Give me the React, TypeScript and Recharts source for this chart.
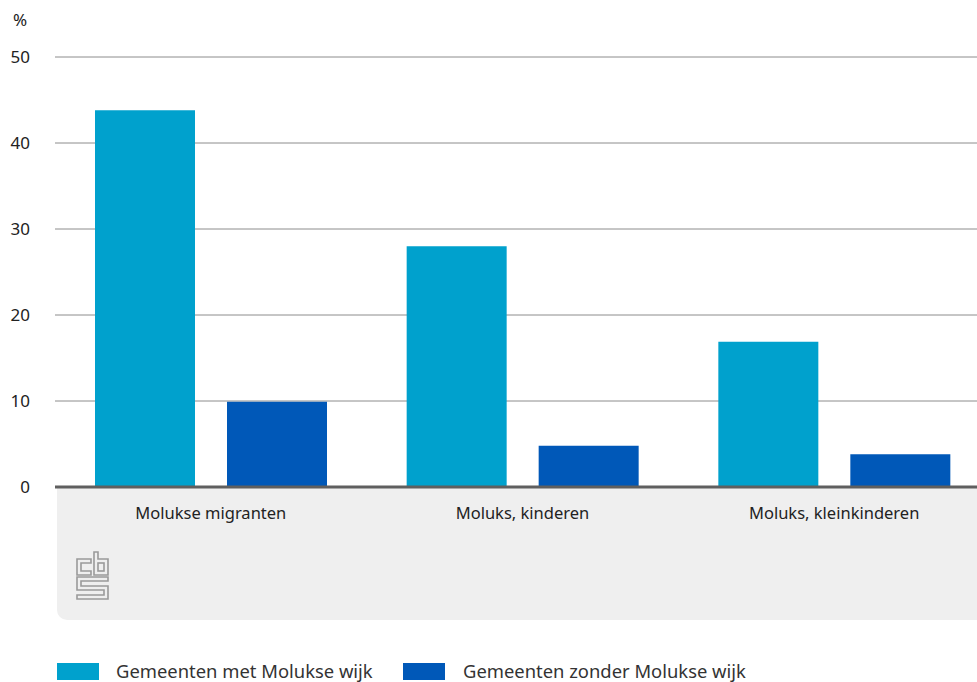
import React from 'react'
import {
  BarChart, Bar, XAxis, YAxis, CartesianGrid, ReferenceLine,
} from 'recharts'

const categories = ['Molukse migranten', 'Moluks, kinderen', 'Moluks, kleinkinderen']
const metWijk = [43.8, 28, 16.9]
const zonderWijk = [9.9, 4.8, 3.8]
const yTicks = [0, 10, 20, 30, 40, 50]
const seriesNames = ['Gemeenten met Molukse wijk', 'Gemeenten zonder Molukse wijk']

const LIGHT = '#00a1cd'
const DARK = '#0058b8'
const FONT = '"Noto Sans", sans-serif'

const data = categories.map((name, i) => ({
  name,
  met: metWijk[i],
  zonder: zonderWijk[i],
}))

function CbsLogo() {
  // rough outline of the cbs mark
  return (
    <svg width={34} height={50} viewBox="0 0 34 50" style={{ position: 'absolute', left: 19, top: 63 }}>
      <g fill="none" stroke="#9a9a9a" strokeWidth={1.6}>
        <path d="M1 8 H15 V12 H5 V20 H15 V24 H1 Z" />
        <path d="M18 1 H22 V8 H32 V24 H18 Z" />
        <rect x={22} y={12} width={6} height={8} />
        <path d="M1 26 H32 V30 H5 V35 H32 V48 H1 V44 H28 V39 H1 Z" />
      </g>
    </svg>
  )
}

export default function App() {
  return (
    <div style={{ position: 'fixed', left: 0, top: 0, width: 977, height: 682, overflow: 'hidden', background: '#fff', fontFamily: FONT }}>
      <div style={{
        position: 'absolute', left: 57, top: 488, width: 940, height: 132,
        background: '#efefef', borderBottomLeftRadius: 10,
      }}>
        <CbsLogo />
      </div>
      <div style={{ position: 'absolute', left: 13, top: 8, fontSize: 17, color: '#222' }}>%</div>
      <div style={{ position: 'absolute', left: 0, top: 0 }}>
        <BarChart
          width={990}
          height={560}
          data={data}
          margin={{ top: 57, right: 0, bottom: 0, left: 0 }}
          barCategoryGap={40}
          barGap={32}
        >
          <CartesianGrid vertical={false} stroke="#8c8c8c" strokeWidth={1} />
          <XAxis
            dataKey="name"
            axisLine={false}
            tickLine={false}
            tickSize={0}
            tickMargin={20}
            height={73}
            tick={{ fontSize: 16.5, fill: '#222', fontFamily: FONT }}
          />
          <YAxis
            width={55}
            domain={[0, 50]}
            ticks={yTicks}
            axisLine={false}
            tickLine={false}
            tickSize={0}
            tickMargin={25}
            tick={{ fontSize: 17, fill: '#222', fontFamily: FONT }}
          />
          <Bar dataKey="met" name={seriesNames[0]} fill={LIGHT} barSize={100} isAnimationActive={false} />
          <Bar dataKey="zonder" name={seriesNames[1]} fill={DARK} barSize={100} isAnimationActive={false} />
          <ReferenceLine y={0} stroke="#5f5f5f" strokeWidth={3} />
        </BarChart>
      </div>
      <div style={{ position: 'absolute', left: 57, top: 659, height: 24, width: 900, fontSize: 18.4, color: '#333', lineHeight: '24px' }}>
        <span style={{ position: 'absolute', left: 0, top: 4, width: 42, height: 17, background: LIGHT }} />
        <span style={{ position: 'absolute', left: 59, top: 0, whiteSpace: 'nowrap' }}>{seriesNames[0]}</span>
        <span style={{ position: 'absolute', left: 346, top: 4, width: 42, height: 17, background: DARK }} />
        <span style={{ position: 'absolute', left: 406, top: 0, whiteSpace: 'nowrap' }}>{seriesNames[1]}</span>
      </div>
    </div>
  )
}
